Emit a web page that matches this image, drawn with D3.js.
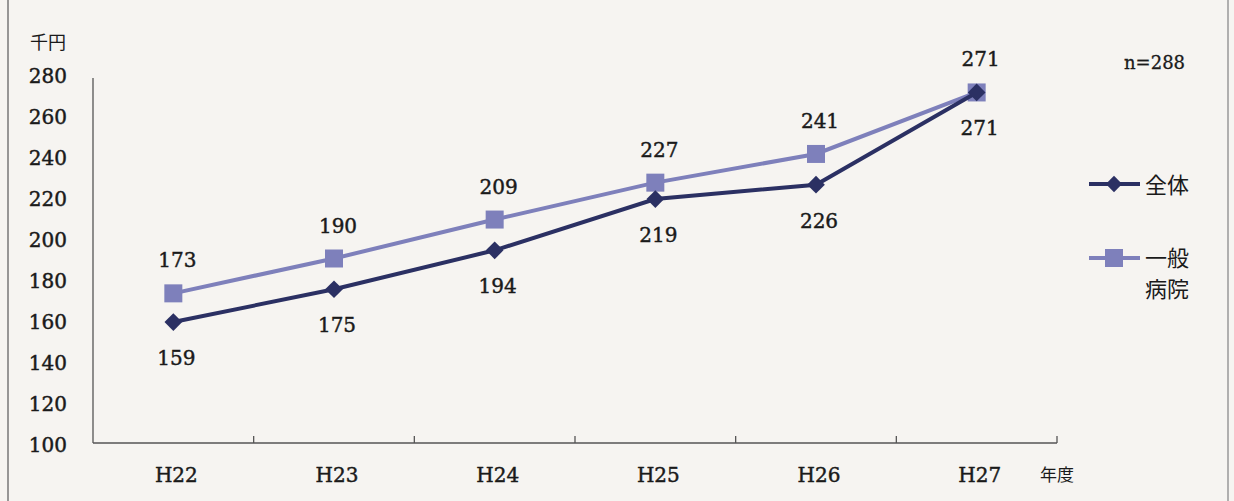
<!DOCTYPE html>
<html>
<head>
<meta charset="utf-8">
<script src="https://cdn.jsdelivr.net/npm/d3@7"></script>
<style>
  body { margin: 0; background: #f6f4f1; }
  svg { display: block; }
  .num { font-family: "DejaVu Serif", "Liberation Serif", serif; font-size: 20px; fill: #1a1a1a; stroke: #1a1a1a; stroke-width: 0.45px; }
  .jp { font-family: "Noto Sans CJK JP", sans-serif; fill: #1a1a1a; }
</style>
</head>
<body>
<svg id="graph" width="1234" height="501"></svg>
<script>
// data
const years = ['H22', 'H23', 'H24', 'H25', 'H26', 'H27']
const zentai = [159, 175, 194, 219, 226, 271]
const ippan = [173, 190, 209, 227, 241, 271]
const yTicks = [100, 120, 140, 160, 180, 200, 220, 240, 260, 280]

const navy = '#2b3063'
const lilac = '#7e80bb'

const svg = d3.select('#graph')

// scan frame
svg.append('line').attr('x1', 8).attr('x2', 8).attr('y1', 0).attr('y2', 501)
  .attr('stroke', '#777').attr('stroke-width', 1.5)
svg.append('line').attr('x1', 1228).attr('x2', 1228).attr('y1', 0).attr('y2', 501)
  .attr('stroke', '#999').attr('stroke-width', 1.5)

const pLeft = 93, pRight = 1057, pTop = 74, pBottom = 443

const x = d3.scaleBand().domain(years).range([pLeft, pRight])
const y = d3.scaleLinear().domain([100, 280]).range([pBottom, pTop])

// axes lines
svg.append('line').attr('x1', pLeft).attr('x2', pLeft).attr('y1', pTop + 4).attr('y2', pBottom)
  .attr('stroke', '#555').attr('stroke-width', 1.3)
svg.append('line').attr('x1', pLeft).attr('x2', pRight).attr('y1', pBottom).attr('y2', pBottom)
  .attr('stroke', '#555').attr('stroke-width', 1.3)

// x ticks (between categories, pointing up)
const bounds = years.slice(1).map(d => x(d)).concat([pRight])
svg.selectAll('.xtick').data(bounds).enter().append('line')
  .attr('class', 'xtick')
  .attr('x1', d => d).attr('x2', d => d)
  .attr('y1', pBottom).attr('y2', pBottom - 7)
  .attr('stroke', '#555').attr('stroke-width', 1.3)

svg.selectAll('.xlab').data(years).enter().append('text')
  .attr('class', 'xlab num')
  .attr('x', d => x(d) + x.bandwidth() / 2 + 3)
  .attr('y', 482)
  .attr('text-anchor', 'middle')
  .text(d => d)

svg.selectAll('.ylab').data(yTicks).enter().append('text')
  .attr('class', 'ylab num')
  .attr('x', 67)
  .attr('y', d => y(d) + 9)
  .attr('text-anchor', 'end')
  .text(d => d)

svg.append('text').attr('class', 'jp').attr('x', 30).attr('y', 49)
  .attr('font-size', 18).text('千円')
svg.append('text').attr('class', 'num').attr('x', 1124).attr('y', 69)
  .style('font-size', '18px').style('stroke-width', '0.3px').text('n=288')
svg.append('text').attr('class', 'jp').attr('x', 1040).attr('y', 481)
  .attr('font-size', 17).text('年度')

const cx = (d, i) => x(years[i]) + x.bandwidth() / 2
const line = d3.line().x((d, i) => cx(d, i)).y(d => y(d))

// 一般病院
svg.append('path').datum(ippan).attr('d', line)
  .attr('fill', 'none').attr('stroke', lilac).attr('stroke-width', 4)
svg.selectAll('.sq').data(ippan).enter().append('rect')
  .attr('class', 'sq')
  .attr('x', (d, i) => cx(d, i) - 9).attr('y', d => y(d) - 9)
  .attr('width', 18).attr('height', 18).attr('fill', lilac)

// 全体
svg.append('path').datum(zentai).attr('d', line)
  .attr('fill', 'none').attr('stroke', navy).attr('stroke-width', 4)
svg.selectAll('.dia').data(zentai).enter().append('path')
  .attr('class', 'dia')
  .attr('d', d3.symbol(d3.symbolDiamond2, 200)())
  .attr('transform', (d, i) => `translate(${cx(d, i)},${y(d)})`)
  .attr('fill', navy)

// value labels
svg.selectAll('.lab1').data(ippan).enter().append('text')
  .attr('class', 'lab1 num')
  .attr('x', (d, i) => cx(d, i) + 4)
  .attr('y', d => y(d) - 26)
  .attr('text-anchor', 'middle')
  .text(d => d)
svg.selectAll('.lab2').data(zentai).enter().append('text')
  .attr('class', 'lab2 num')
  .attr('x', (d, i) => cx(d, i) + 3)
  .attr('y', d => y(d) + 43)
  .attr('text-anchor', 'middle')
  .text(d => d)

// legend
const lg = svg.append('g')
lg.append('line').attr('x1', 1089).attr('x2', 1140).attr('y1', 184).attr('y2', 184)
  .attr('stroke', navy).attr('stroke-width', 4)
lg.append('path').attr('d', d3.symbol(d3.symbolDiamond2, 170)())
  .attr('transform', 'translate(1114,184)').attr('fill', navy)
lg.append('text').attr('class', 'jp').attr('x', 1145).attr('y', 193)
  .attr('font-size', 22).text('全体')

lg.append('line').attr('x1', 1089).attr('x2', 1140).attr('y1', 258).attr('y2', 258)
  .attr('stroke', lilac).attr('stroke-width', 4)
lg.append('rect').attr('x', 1105).attr('y', 249).attr('width', 18).attr('height', 18)
  .attr('fill', lilac)
lg.append('text').attr('class', 'jp').attr('x', 1145).attr('y', 266)
  .attr('font-size', 22).text('一般')
lg.append('text').attr('class', 'jp').attr('x', 1145).attr('y', 297)
  .attr('font-size', 22).text('病院')
</script>
</body>
</html>
